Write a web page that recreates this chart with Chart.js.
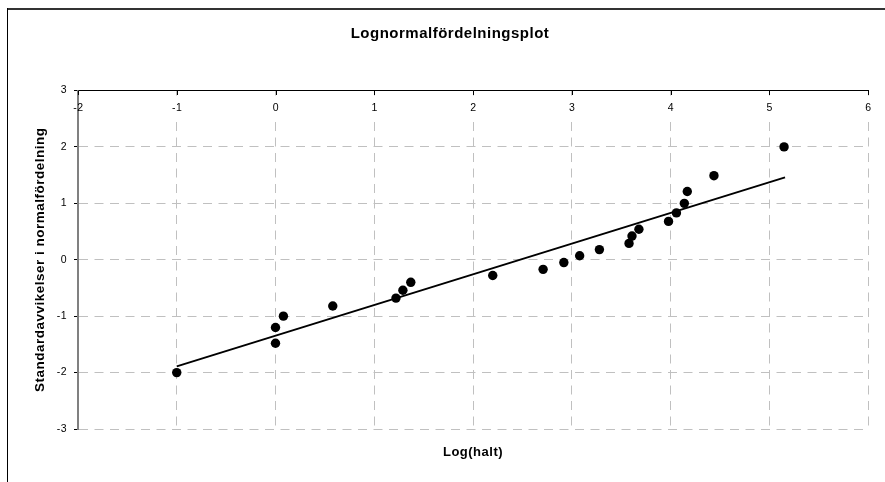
<!DOCTYPE html>
<html>
<head>
<meta charset="utf-8">
<script src="https://cdn.jsdelivr.net/npm/chart.js@4/dist/chart.umd.min.js"></script>
<style>
  html, body { margin: 0; padding: 0; background: #fff; }
  canvas { display: block; }
</style>
</head>
<body>
<canvas id="c" width="885" height="482"></canvas>
<script>
// log10 of the measured concentrations, sorted, and their normal scores
const logHalt = [-1.00, 0.00, 0.00, 0.08, 0.58, 1.22, 1.29, 1.37, 2.20, 2.71, 2.92,
                 3.08, 3.28, 3.58, 3.61, 3.68, 3.98, 4.06, 4.14, 4.17, 4.44, 5.15];
const normalScore = [-2.00, -1.48, -1.20, -1.00, -0.82, -0.68, -0.54, -0.40, -0.28, -0.17, -0.05,
                     0.07, 0.18, 0.29, 0.42, 0.54, 0.68, 0.83, 1.00, 1.21, 1.49, 2.00];

// linear trend line, first and last point
const trendX = [-1.00, 5.16];
const trendY = [-1.89, 1.46];

// axis ticks
const xTickValues = [-2, -1, 0, 1, 2, 3, 4, 5, 6];
const yTickValues = [-3, -2, -1, 0, 1, 2, 3];

const FONT = '"Liberation Sans", Arial, Helvetica, sans-serif';
const GRID = '#c0c0c0';
const DASH = [9, 6.5];

// Outer frame, plus the x tick marks and labels that sit just under the top axis
const frameAndTopLabels = {
  id: 'frameAndTopLabels',
  beforeDraw(chart) {
    const ctx = chart.ctx;
    ctx.letterSpacing = '0.5px';
    ctx.save();
    ctx.strokeStyle = '#333';
    ctx.lineWidth = 2;
    ctx.beginPath();
    ctx.moveTo(7, 9);
    ctx.lineTo(chart.width, 9);
    ctx.stroke();
    ctx.strokeStyle = '#000';
    ctx.lineWidth = 1;
    ctx.beginPath();
    ctx.moveTo(7.5, 8);
    ctx.lineTo(7.5, chart.height);
    ctx.stroke();
    ctx.restore();
  },
  afterDraw(chart) {
    const ctx = chart.ctx;
    const xs = chart.scales.x;
    const area = chart.chartArea;
    ctx.save();
    ctx.font = '10.5px ' + FONT;
    ctx.textAlign = 'center';
    ctx.textBaseline = 'middle';
    xs.ticks.forEach(t => {
      const px = xs.getPixelForValue(t.value);
      const label = String(t.value);
      const w = ctx.measureText(label).width;
      if (px > area.left + 2) {
        ctx.fillStyle = '#fff';
        ctx.fillRect(px - w / 2 - 3, area.top + 5, w + 6, 22);
      }
      ctx.strokeStyle = '#000';
      ctx.lineWidth = 1;
      ctx.beginPath();
      ctx.moveTo(Math.round(px) + 0.5, area.top);
      ctx.lineTo(Math.round(px) + 0.5, area.top + 4.5);
      ctx.stroke();
      ctx.fillStyle = '#000';
      ctx.fillText(label, px + 0.3, 108.5);
    });
    ctx.restore();
  }
};

new Chart(document.getElementById('c'), {
  type: 'scatter',
  data: {
    datasets: [
      {
        label: 'Observationer',
        data: logHalt.map((x, i) => ({ x, y: normalScore[i] })),
        showLine: false,
        pointRadius: 4.7,
        pointBorderWidth: 0,
        pointBackgroundColor: '#000',
        pointBorderColor: '#000'
      },
      {
        label: 'Trend',
        data: trendX.map((x, i) => ({ x, y: trendY[i] })),
        showLine: true,
        borderColor: '#000',
        borderWidth: 2,
        pointRadius: 0,
        fill: false
      }
    ]
  },
  options: {
    responsive: false,
    animation: false,
    events: [],
    layout: { padding: { left: 32, right: 17, top: 0, bottom: 0 } },
    plugins: {
      legend: { display: false },
      tooltip: { enabled: false },
      title: {
        display: true,
        text: 'Lognormalfördelningsplot',
        color: '#000',
        font: { family: FONT, size: 15, weight: 'bold', lineHeight: 1.2 },
        padding: { top: 25, bottom: 9.1 }
      },
      subtitle: {
        display: true,
        position: 'bottom',
        fullSize: false,
        text: 'Log(halt)',
        color: '#000',
        font: { family: FONT, size: 13, weight: 'bold', lineHeight: 1.2 },
        padding: { top: 15.7, bottom: 21.7 }
      }
    },
    scales: {
      x: {
        type: 'linear',
        position: 'top',
        min: -2,
        max: 6,
        afterBuildTicks: s => { s.ticks = xTickValues.map(v => ({ value: v })); },
        afterFit: s => { s.height = 38.4; },
        ticks: { display: false },
        grid: { color: GRID, lineWidth: 1, drawTicks: false },
        border: { color: '#000', width: 1, dash: DASH }
      },
      y: {
        type: 'linear',
        position: 'left',
        min: -3,
        max: 3,
        afterBuildTicks: s => { s.ticks = yTickValues.map(v => ({ value: v })); },
        afterFit: s => { s.width = 46; },
        ticks: { color: '#000', font: { family: FONT, size: 10.5 }, padding: 7 },
        grid: { color: GRID, lineWidth: 1, tickColor: '#000', tickLength: 4 },
        border: { color: '#808080', width: 2, dash: DASH },
        title: {
          display: true,
          text: 'Standardavvikelser i normalfördelning',
          color: '#000',
          font: { family: FONT, size: 13.5, weight: 'bold', lineHeight: 1.2 },
          padding: { top: 0.4, bottom: 0 }
        }
      }
    }
  },
  plugins: [frameAndTopLabels]
});
</script>
</body>
</html>
